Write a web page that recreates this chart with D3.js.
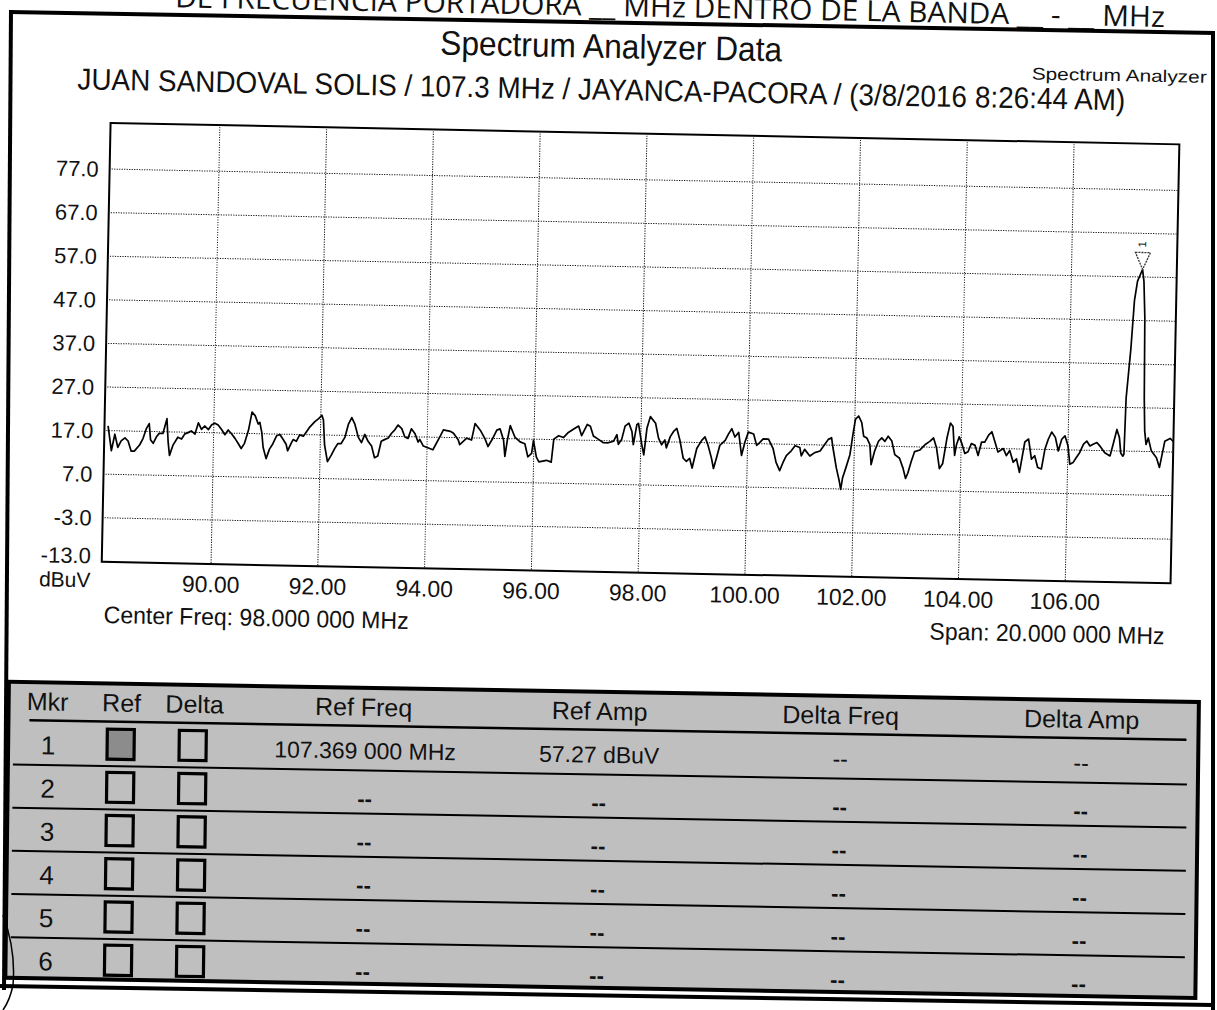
<!DOCTYPE html>
<html><head><meta charset="utf-8">
<script src="https://cdn.jsdelivr.net/npm/d3@7"></script>
<style>
html,body{margin:0;padding:0;background:#fff;}
svg{display:block;}
text{font-family:"Liberation Sans Narrow","Liberation Sans",Arial,sans-serif;fill:#111;}
</style></head><body>
<svg id="c" width="1217" height="1010"></svg>
<script>
// ---------------- DATA ----------------
const freqMHz = [
 88.03,88.10,88.16,88.22,88.28,88.35,88.41,88.47,88.53,88.63,
 88.69,88.75,88.80,88.83,88.88,88.94,88.99,89.06,89.13,89.16,
 89.19,89.25,89.34,89.41,89.47,89.53,89.59,89.66,89.72,89.78,
 89.84,89.91,89.97,90.03,90.09,90.16,90.22,90.28,90.34,90.41,
 90.47,90.53,90.59,90.66,90.72,90.78,90.84,90.87,90.91,90.94,
 91.00,91.06,91.12,91.19,91.25,91.31,91.37,91.40,91.47,91.50,
 91.56,91.62,91.69,91.75,91.81,91.90,91.97,92.03,92.06,92.09,
 92.15,92.22,92.28,92.34,92.40,92.47,92.53,92.59,92.65,92.72,
 92.78,92.84,92.90,92.97,93.03,93.09,93.15,93.21,93.28,93.34,
 93.40,93.46,93.53,93.59,93.65,93.71,93.78,93.84,
 93.87,93.94,94.12,94.25,94.31,94.44,94.50,94.59,94.62,94.75,
 94.84,94.90,95.00,95.09,95.15,95.22,95.31,95.37,95.44,95.47,
 95.51,95.56,95.65,95.75,95.84,95.90,95.97,96.00,96.06,96.11,
 96.25,96.34,96.38,96.47,96.56,96.65,96.75,96.84,96.90,97.00,
 97.06,97.12,97.21,97.31,97.40,97.50,97.56,97.59,97.65,97.71,
 97.78,97.84,97.87,97.93,97.96,98.03,98.07,98.12,98.18,98.28,
 98.34,98.40,98.46,98.49,98.56,98.62,98.68,98.74,98.81,98.87,
 98.93,98.98,99.06,99.15,99.21,99.27,99.34,99.38,99.43,99.49,
 99.59,99.65,99.71,99.77,99.84,99.90,99.96,100.02,100.12,100.18,
 100.24,100.30,100.40,100.49,100.55,100.62,100.68,100.74,100.83,100.90,
 100.99,101.02,101.08,101.18,101.27,101.37,
 101.46,101.52,101.58,101.61,101.68,101.74,101.77,101.80,101.86,101.93,
 101.98,102.02,102.08,102.14,102.18,102.24,102.30,102.33,102.39,102.46,
 102.52,102.58,102.64,102.71,102.77,102.86,102.93,102.98,103.02,103.08,
 103.14,103.24,103.33,103.42,103.49,103.55,103.61,103.67,103.74,103.80,
 103.85,103.89,103.92,103.97,104.02,104.08,104.14,104.20,104.27,104.33,
 104.39,104.45,104.52,104.58,104.64,104.70,104.80,104.86,104.92,104.99,
 105.05,105.11,105.14,105.20,105.27,105.33,105.39,105.45,105.52,105.58,
 105.64,105.70,105.77,105.83,105.89,105.95,106.01,106.05,106.11,106.17,
 106.23,106.30,106.36,106.42,106.48,106.55,106.61,106.70,106.80,106.86,
 106.92,106.97,107.00,107.04,107.06,107.08,107.15,107.20,107.25,107.34,
 107.37,107.40,107.42,107.44,107.47,107.51,107.57,107.67,107.73,107.82,
 107.92,107.98
];
const ampDbuv = [
 18.0,12.3,16.1,13.1,14.6,15.3,14.6,12.3,12.3,13.8,
 15.3,17.6,18.7,15.0,14.2,15.7,16.5,16.5,19.9,14.6,
 11.5,13.8,15.7,15.3,16.5,16.8,17.2,16.5,19.1,17.6,
 18.4,17.6,18.7,19.1,18.7,17.6,16.5,17.6,16.8,15.7,
 14.6,13.4,14.6,17.6,21.8,21.0,19.1,19.5,17.2,13.8,
 11.2,13.4,14.6,16.5,16.8,15.7,14.6,13.1,15.0,15.7,
 15.3,16.8,16.5,17.6,18.7,19.9,20.6,21.4,20.3,14.6,
 10.8,12.3,13.8,15.0,15.0,16.5,19.5,21.0,19.5,16.5,
 15.3,17.2,15.7,14.6,11.9,12.3,15.7,16.1,16.5,17.6,
 18.4,19.5,18.7,16.8,16.5,18.7,17.6,15.7,
 16.3,14.8,14.0,17.1,18.6,18.3,17.9,16.4,15.3,16.8,
 16.4,20.2,18.7,16.8,15.0,16.5,18.8,19.1,16.5,12.8,
 16.5,19.9,17.3,16.2,15.8,12.8,13.6,16.6,12.8,11.7,
 12.1,11.7,17.0,17.8,17.4,18.6,19.4,20.1,17.9,20.5,
 20.1,17.9,17.2,16.4,16.4,16.8,18.3,16.1,17.2,20.3,
 21.0,19.1,16.1,20.7,21.0,16.1,13.8,19.9,22.6,21.1,
 17.7,16.2,17.3,15.5,18.1,19.3,20.0,17.4,13.2,12.5,
 13.2,11.0,15.5,17.4,18.2,16.3,13.3,11.0,13.3,16.3,
 17.5,19.0,20.2,18.3,19.4,14.1,17.2,19.5,19.1,16.5,
 17.2,18.0,18.0,15.8,12.7,10.8,12.7,14.3,15.4,16.6,
 16.2,14.3,15.8,14.3,15.1,15.5,
 17.1,18.2,18.6,16.3,11.7,8.7,6.8,9.4,11.8,14.8,
 19.5,22.9,23.7,22.2,19.1,18.7,17.2,12.6,15.7,18.0,
 18.8,18.0,19.2,18.1,15.0,14.2,11.9,9.6,10.8,13.5,
 15.8,16.2,17.4,18.2,19.0,16.7,12.0,13.2,19.0,22.5,
 21.7,15.1,17.5,19.4,17.9,15.6,16.0,17.9,17.5,15.2,
 18.3,18.3,19.9,20.7,18.4,16.1,16.9,15.3,16.5,13.8,
 14.6,11.5,13.8,18.5,19.2,14.6,15.4,12.7,12.4,17.0,
 19.3,20.9,19.7,16.6,19.3,20.1,17.8,13.6,14.0,15.2,
 16.3,18.3,19.0,17.9,18.3,18.7,17.9,16.4,15.7,18.7,
 21.8,19.9,16.4,15.7,16.2,29.0,40.3,51.5,55.9,58.6,
 55.9,47.6,29.0,21.6,18.5,20.0,17.1,15.5,13.3,19.3,
 20.0,19.3
];
const freqDomain = [88, 108];
const ampDomain = [-13, 87];
const yTickValues = [-13, -3, 7, 17, 27, 37, 47, 57, 67, 77];
const xTickValues = [90, 92, 94, 96, 98, 100, 102, 104, 106];
const yUnit = "dBuV";
const headerLine = "DE FRECUENCIA PORTADORA __ MHz DENTRO DE LA BANDA __ - __ MHz";
const titleText = "Spectrum Analyzer Data";
const subtitleText = "JUAN SANDOVAL SOLIS / 107.3 MHz / JAYANCA-PACORA / (3/8/2016 8:26:44 AM)";
const cornerText = "Spectrum Analyzer";
const centerFreqText = "Center Freq: 98.000 000 MHz";
const spanText = "Span: 20.000 000 MHz";
const markerLabel = "1";
const tableHeaders = ["Mkr", "Ref", "Delta", "Ref Freq", "Ref Amp", "Delta Freq", "Delta Amp"];
const markerIds = ["1", "2", "3", "4", "5", "6"];
const refFreqText = ["107.369 000 MHz", "--", "--", "--", "--", "--"];
const refAmpText = ["57.27 dBuV", "--", "--", "--", "--", "--"];
const deltaFreqText = ["--", "--", "--", "--", "--", "--"];
const deltaAmpText = ["--", "--", "--", "--", "--", "--"];
const refChecked = [true, false, false, false, false, false];

// ---------------- DRAWING ----------------
const svg = d3.select("#c");
svg.append("rect").attr("width", 1217).attr("height", 1010).attr("fill", "#fff");

// page (scanned, slightly rotated)
const g = svg.append("g").attr("transform", "rotate(1.15 608 505)");

const x = d3.scaleLinear().domain(freqDomain).range([105, 1173]);
const y = d3.scaleLinear().domain(ampDomain).range([571, 135]);
const hy = s => s.replace(/\u2212/g, "-");

// header line of document (cut at top like the scan)
g.append("text").attr("x", 165).attr("y", 16)
  .style("font-family", "'Open Sans', Lato, sans-serif").style("font-size", "29px")
  .attr("textLength", 990).attr("lengthAdjust", "spacingAndGlyphs").text(headerLine);

g.append("text").attr("x", 602).attr("y", 58).attr("text-anchor", "middle")
  .style("font-size", "34px").attr("textLength", 342).attr("lengthAdjust", "spacingAndGlyphs").text(titleText);
g.append("text").attr("x", 593).attr("y", 100).attr("text-anchor", "middle")
  .style("font-size", "30px").attr("textLength", 1048).attr("lengthAdjust", "spacingAndGlyphs").text(subtitleText);
g.append("text").attr("x", 1198).attr("y", 71).attr("text-anchor", "end")
  .style("font-size", "17px").attr("textLength", 175).attr("lengthAdjust", "spacingAndGlyphs").text(cornerText);

// plot frame
const x0 = x(freqDomain[0]), x1 = x(freqDomain[1]);
const yTop = y(ampDomain[1]), yBot = y(ampDomain[0]);
g.append("rect").attr("x", x0 - 2).attr("y", yTop - 2)
  .attr("width", x1 - x0 + 1).attr("height", yBot - yTop + 3)
  .attr("fill", "#fff").attr("stroke", "#000").attr("stroke-width", 2);

// grid via axes
const gridY = g.append("g").attr("transform", `translate(${x0},0)`)
  .call(d3.axisLeft(y).tickValues(yTickValues.filter(v => v > ampDomain[0]))
    .tickSize(-(x1 - x0 - 2)).tickFormat(""));
const gridX = g.append("g").attr("transform", `translate(0,${yBot})`)
  .call(d3.axisBottom(x).tickValues(xTickValues).tickSize(-(yBot - yTop)).tickFormat(""));
[gridY, gridX].forEach(gg => {
  gg.select(".domain").remove();
  gg.selectAll("line").attr("stroke", "#111").attr("stroke-width", 1).attr("stroke-dasharray", "1.2,1.3");
});

// axis labels
const fmtY = d => hy(d3.format(".1f")(d));
const axY = g.append("g").attr("transform", `translate(103,0)`)
  .call(d3.axisLeft(y).tickValues(yTickValues).tickFormat(fmtY).tickSize(0).tickPadding(11));
axY.select(".domain").remove();
axY.selectAll("text").style("font-size", "22px").attr("fill", "#111")
  .attr("dy", d => d === ampDomain[0] ? "0.1em" : "0.36em")
  .style("font-family", "'Liberation Sans',Arial,sans-serif");

const axX = g.append("g").attr("transform", `translate(0,592)`)
  .call(d3.axisBottom(x).tickValues(xTickValues).tickFormat(d3.format(".2f")).tickSize(0).tickPadding(0));
axX.select(".domain").remove();
axX.selectAll("text").attr("dy", "0.36em").style("font-size", "23px").attr("fill", "#111")
  .style("font-family", "'Liberation Sans',Arial,sans-serif");

g.append("text").attr("x", 92).attr("y", 590).attr("dy", "0.36em").attr("text-anchor", "end")
  .style("font-size", "21px").style("font-family", "'Liberation Sans',Arial,sans-serif").text(yUnit);

g.append("text").attr("x", 106).attr("y", 633).style("font-size", "24px")
  .attr("textLength", 305).attr("lengthAdjust", "spacingAndGlyphs").text(centerFreqText);
g.append("text").attr("x", 1167).attr("y", 633).attr("text-anchor", "end").style("font-size", "24px")
  .attr("textLength", 235).attr("lengthAdjust", "spacingAndGlyphs").text(spanText);

// trace
g.append("clipPath").attr("id", "plotclip").append("rect")
  .attr("x", x0 - 1).attr("y", yTop - 1).attr("width", x1 - x0).attr("height", yBot - yTop + 2);
const trace = d3.zip(freqMHz, ampDbuv);
g.append("path").datum(trace).attr("clip-path", "url(#plotclip)")
  .attr("fill", "none").attr("stroke", "#000").attr("stroke-width", 1.7).attr("stroke-linejoin", "round")
  .attr("d", d3.line().x(d => x(d[0])).y(d => y(d[1])));

// marker 1 at peak
const pk = d3.maxIndex(ampDbuv);
const mx = x(freqMHz[pk]), my = y(ampDbuv[pk]);
g.append("path").attr("d", `M${mx - 7.5},${my - 17}L${mx + 7.5},${my - 17}L${mx},${my}Z`)
  .attr("fill", "none").attr("stroke", "#333").attr("stroke-width", 1.3).attr("stroke-dasharray", "2,1");
g.append("text").attr("transform", `translate(${mx + 3},${my - 22}) rotate(-90)`)
  .style("font-size", "11px").attr("fill", "#333").text(markerLabel);

// ---------------- TABLE ----------------
const t = svg.append("g").attr("transform", "matrix(1,0.017,-0.012,1,10.2,-10.34)");
const tLeft = 7, tRight = 1197, tTop = 692, tBottom = 988;
const row0 = 754.6, rowH = 43.2;
const bg = "#bfbfbf";
t.append("rect").attr("x", tLeft).attr("y", tTop).attr("width", tRight - tLeft).attr("height", tBottom - tTop)
  .attr("fill", bg).attr("stroke", "#000").attr("stroke-width", 4);
const colX = [46, 120, 193, 362, 598, 839, 1080];
t.selectAll("text.hdr").data(tableHeaders).join("text").attr("class", "hdr")
  .attr("x", (d, i) => colX[i]).attr("y", 711).attr("dy", "0.36em").attr("text-anchor", "middle")
  .style("font-size", "25px").text(d => d);
t.append("line").attr("x1", 28).attr("x2", 1185).attr("y1", 730).attr("y2", 730)
  .attr("stroke", "#000").attr("stroke-width", 2.5);
t.selectAll("line.row").data(markerIds.slice(0, -1)).join("line").attr("class", "row")
  .attr("x1", 12).attr("x2", 1186)
  .attr("y1", (d, i) => row0 + i * rowH + 20).attr("y2", (d, i) => row0 + i * rowH + 20)
  .attr("stroke", "#000").attr("stroke-width", 2);

const rows = t.selectAll("g.r").data(markerIds).join("g").attr("class", "r")
  .attr("transform", (d, i) => `translate(0,${row0 + i * rowH})`);
const faded = (i) => i === 0 ? "#aaaaaa" : "#111";
rows.append("text").attr("x", 47).attr("dy", "0.36em").attr("text-anchor", "middle")
  .style("font-size", "26px").attr("fill", (d, i) => faded(i)).text(d => d);
rows.append("rect").attr("x", 106).attr("y", -17).attr("width", 27).attr("height", 30)
  .attr("fill", (d, i) => refChecked[i] ? "#8c8c8c" : bg).attr("stroke", "#000").attr("stroke-width", 3.2);
rows.append("rect").attr("x", 178).attr("y", -17).attr("width", 27).attr("height", 30)
  .attr("fill", bg).attr("stroke", "#000").attr("stroke-width", 3.2);
const valCols = [[refFreqText, 364], [refAmpText, 598], [deltaFreqText, 839], [deltaAmpText, 1080]];
valCols.forEach(([arr, cx]) => {
  rows.append("text").attr("x", cx).attr("y", (d, i) => i === 0 ? 0 : 5).attr("dy", "0.36em")
    .attr("text-anchor", "middle").style("font-size", (d, i) => i === 0 ? "23px" : "22px")
    .style("font-weight", (d, i) => i === 0 ? "normal" : "bold")
    .attr("fill", (d, i) => faded(i)).text((d, i) => arr[i]);
});

// ---------------- PAGE FRAME ----------------
const frame = svg.append("g").attr("stroke", "#000").attr("fill", "none");
frame.append("line").attr("x1", 9).attr("y1", 12).attr("x2", 1215).attr("y2", 33).attr("stroke-width", 4);
frame.append("line").attr("x1", 11).attr("y1", 10).attr("x2", 4).attr("y2", 990).attr("stroke-width", 4);
frame.append("line").attr("x1", 1213).attr("y1", 31).attr("x2", 1213).attr("y2", 1010).attr("stroke-width", 4);
frame.append("line").attr("x1", 0).attr("y1", 986).attr("x2", 1213).attr("y2", 1005).attr("stroke-width", 4);
frame.append("path").attr("d", "M3,915 Q16,950 13,985 Q10,1000 3,1010").attr("stroke-width", 1.5);
</script>
</body></html>
